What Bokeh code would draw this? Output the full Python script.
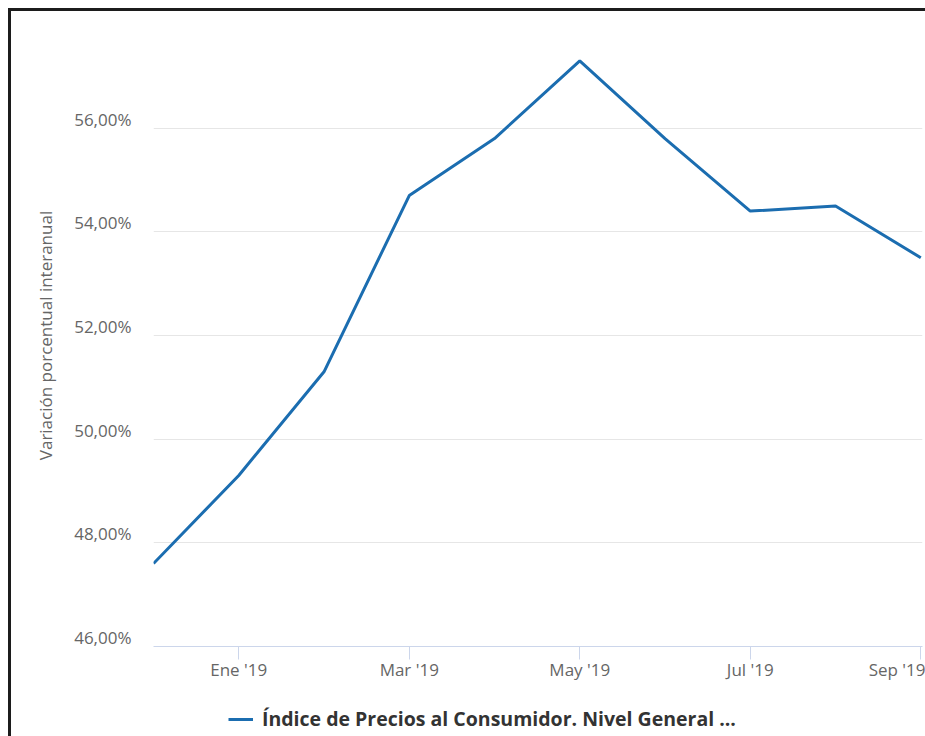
from bokeh.plotting import figure
from bokeh.layouts import column
from bokeh.models import (Range1d, FixedTicker, LinearAxis, Legend, LegendItem, ColumnDataSource)
from bokeh.embed import file_html
from bokeh.resources import INLINE

# ---- data ----
months = ["Dic '18", "Ene '19", "Feb '19", "Mar '19", "Abr '19", "May '19",
          "Jun '19", "Jul '19", "Ago '19", "Sep '19"]
ipc_yoy = [47.6, 49.3, 51.3, 54.7, 55.8, 57.3, 55.8, 54.4, 54.5, 53.5]
x_tick_pos = [1, 3, 5, 7, 9]
x_tick_labels = ["Ene '19", "Mar '19", "May '19", "Jul '19", "Sep '19"]
y_ticks = [46, 48, 50, 52, 54, 56, 58]
y_tick_labels = ["46,00%", "48,00%", "50,00%", "52,00%", "54,00%", "56,00%", ""]
series_name = "Índice de Precios al Consumidor. Nivel General ..."
y_title = "Variación porcentual interanual"

FONT = "Open Sans"
LINE_COLOR = "#1b6db0"
W = 914
H1 = 675
H2 = 50

src = ColumnDataSource(dict(x=list(range(len(months))), y=ipc_yoy, m=months))

p = figure(width=W, height=H1, output_backend="svg", toolbar_location=None,
           x_range=Range1d(0, 9.02), y_range=Range1d(46, 58),
           min_border_left=142, min_border_right=3, min_border_top=13,
           min_border_bottom=40, outline_line_color=None,
           background_fill_color="white", border_fill_color="white")

r = p.line("x", "y", source=src, line_color=LINE_COLOR, line_width=3)

# x axis
xa = p.xaxis[0]
xa.ticker = FixedTicker(ticks=x_tick_pos)
xa.major_label_overrides = {k: v for k, v in zip(x_tick_pos, x_tick_labels)}
xa.axis_line_color = "#ccd6eb"
xa.major_tick_line_color = "#ccd6eb"
xa.major_tick_out = 13
xa.major_tick_in = 0
xa.minor_tick_line_color = None
xa.major_label_standoff = -2
xa.major_label_text_font = FONT
xa.major_label_text_font_size = "17px"
xa.major_label_text_color = "#666666"
p.xgrid.grid_line_color = None

# y axis (grid only; labels drawn by shifted extra axis)
ya = p.yaxis[0]
ya.ticker = FixedTicker(ticks=y_ticks)
ya.major_label_text_font_size = "0px"
ya.major_label_text_color = None
ya.axis_line_color = None
ya.major_tick_line_color = None
ya.minor_tick_line_color = None
ya.major_tick_out = 0
ya.major_tick_in = 0
ya.major_label_standoff = 0
p.ygrid.ticker = FixedTicker(ticks=y_ticks)
p.ygrid.grid_line_color = "#e6e6e6"
p.ygrid.grid_line_width = 1

# label axis shifted so labels sit slightly above gridlines
px_per_unit = 622 / 12.0
d = 9.0 / px_per_unit
p.extra_y_ranges = {"lbl": Range1d(46 - d, 58 - d)}
la = LinearAxis(y_range_name="lbl", ticker=FixedTicker(ticks=y_ticks))
la.major_label_overrides = {k: v for k, v in zip(y_ticks, y_tick_labels)}
la.axis_line_color = None
la.major_tick_line_color = None
la.minor_tick_line_color = None
la.major_tick_out = 0
la.major_tick_in = 0
la.major_label_standoff = 22
la.major_label_text_font = FONT
la.major_label_text_font_size = "17px"
la.major_label_text_color = "#666666"
la.axis_label = y_title
la.axis_label_text_font = FONT
la.axis_label_text_font_size = "17px"
la.axis_label_text_font_style = "normal"
la.axis_label_text_color = "#666666"
la.axis_label_standoff = 14
p.add_layout(la, "left")

# legend strip (same series, drawn outside its visible range so only the legend shows)
p2 = figure(width=W, height=H2, output_backend="svg", toolbar_location=None,
            x_range=Range1d(100, 101), y_range=Range1d(100, 101),
            min_border=0, outline_line_color=None,
            background_fill_color="white", border_fill_color="white")
p2.axis.visible = False
p2.grid.visible = False
r2 = p2.line("x", "y", source=src, line_color=LINE_COLOR, line_width=3)
legend = Legend(items=[LegendItem(label=series_name, renderers=[r2])],
                location=(75, 4), orientation="horizontal",
                border_line_color=None, background_fill_alpha=0,
                padding=0, margin=0, spacing=0,
                glyph_width=25, glyph_height=20, label_standoff=9,
                label_text_font=FONT, label_text_font_size="19.5px",
                label_text_font_style="bold", label_text_color="#333333")
p2.add_layout(legend, "center")

layout = column(p, p2, spacing=0, margin=(8, 0, 0, 8))
layout.styles = {"border-top": "3px solid #1c1c1c", "border-left": "3px solid #1c1c1c"}

open("out.html", "w").write(file_html(layout, INLINE))
